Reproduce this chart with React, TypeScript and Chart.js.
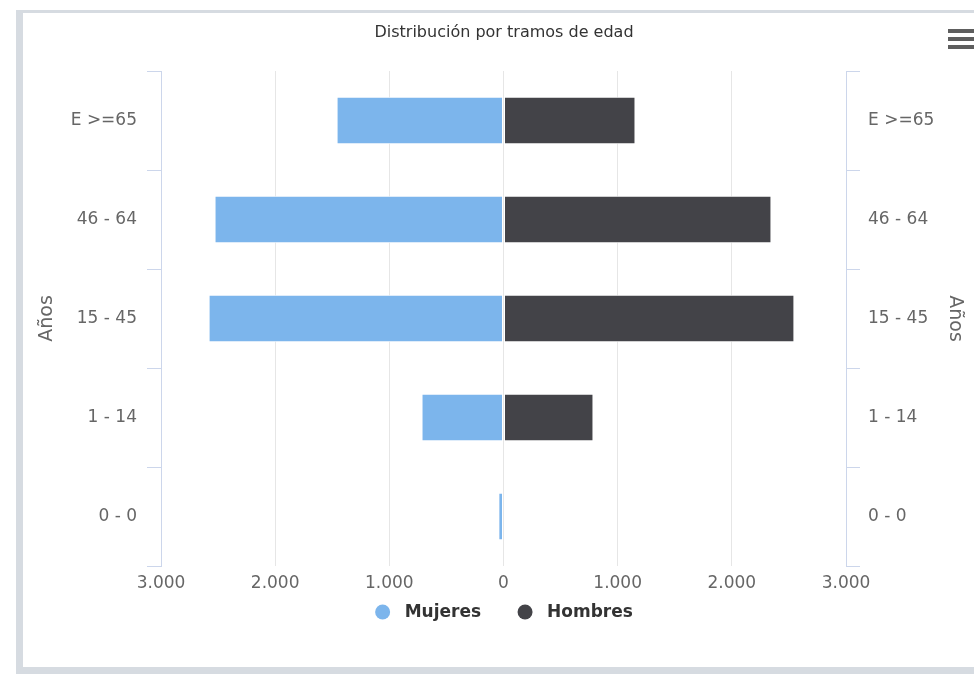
import React, { useEffect, useRef } from 'react';
import { Chart, registerables } from 'chart.js';

Chart.register(...registerables);

const categories = ['E >=65', '46 - 64', '15 - 45', '1 - 14', '0 - 0'];
const mujeres = [-1462, -2531, -2583, -718, -45];
const hombres = [1156, 2347, 2548, 788, 20];
const seriesNames = ['Mujeres', 'Hombres'];
const seriesColors = ['#7cb5ec', '#434348'];
const xMin = -3000;
const xMax = 3000;
const xStep = 1000;
const titleText = 'Distribución por tramos de edad';
const axisTitle = 'Años';

const FONT = "'DejaVu Sans', sans-serif";

function fmt(v: number): string {
  const s = Math.abs(Math.round(v)).toString();
  return s.replace(/\B(?=(\d{3})+(?!\d))/g, '.');
}

const bottomLegend = {
  id: 'bottomLegend',
  afterDraw(chart: any) {
    const ctx = chart.ctx as CanvasRenderingContext2D;
    const items = chart.data.datasets.map((ds: any) => ({ text: ds.label as string, color: ds.backgroundColor as string }));
    const radius = 7.5;
    const dotToText = 22;
    const gap = 44;
    const centerX = 504;
    const y = 612;
    ctx.save();
    ctx.font = `bold 17px ${FONT}`;
    const widths = items.map((it: any) => ctx.measureText(it.text).width);
    let total = radius;
    widths.forEach((w: number, i: number) => {
      total += dotToText + w;
      if (i < widths.length - 1) total += gap;
    });
    let x = centerX - total / 2 + radius;
    ctx.textBaseline = 'middle';
    ctx.textAlign = 'left';
    items.forEach((it: any, i: number) => {
      ctx.fillStyle = it.color;
      ctx.beginPath();
      ctx.arc(x, y, radius, 0, Math.PI * 2);
      ctx.fill();
      ctx.fillStyle = '#333333';
      ctx.fillText(it.text, x + dotToText, y + 1);
      x += dotToText + widths[i] + gap;
    });
    ctx.restore();
  },
};

export default function App() {
  const ref = useRef<HTMLCanvasElement | null>(null);

  useEffect(() => {
    if (!ref.current) return;
    const chart = new Chart(ref.current, {
      type: 'bar',
      data: {
        labels: categories,
        datasets: [
          {
            label: seriesNames[0],
            data: mujeres,
            backgroundColor: seriesColors[0],
            borderColor: '#ffffff',
            borderWidth: 1,
            borderSkipped: false,
            barPercentage: 0.48,
            categoryPercentage: 1,
            yAxisID: 'y',
          },
          {
            label: seriesNames[1],
            data: hombres,
            backgroundColor: seriesColors[1],
            borderColor: '#ffffff',
            borderWidth: 1,
            borderSkipped: false,
            barPercentage: 0.48,
            categoryPercentage: 1,
            yAxisID: 'y',
          },
        ],
      },
      plugins: [bottomLegend],
      options: {
        indexAxis: 'y',
        responsive: false,
        animation: false,
        layout: { padding: { left: 34, right: 0, top: 0, bottom: 0 } },
        scales: {
          x: {
            type: 'linear',
            stacked: true,
            min: xMin,
            max: xMax,
            ticks: {
              stepSize: xStep,
              color: '#666666',
              padding: 7,
              font: { family: FONT, size: 17 },
              callback: (v: any) => fmt(Number(v)),
            },
            grid: { color: '#e6e6e6', drawTicks: false, lineWidth: 1 },
            border: { display: false },
            afterFit: (s: any) => { s.height = 108; },
          },
          y: {
            type: 'category',
            position: 'left',
            stacked: true,
            offset: true,
            ticks: {
              color: '#666666',
              padding: 10,
              font: { family: FONT, size: 17 },
            },
            grid: { offset: true, drawOnChartArea: false, drawTicks: true, tickLength: 14, color: '#ccd6eb' },
            border: { display: true, color: '#ccd6eb' },
            title: {
              display: true,
              text: axisTitle,
              color: '#666666',
              font: { family: FONT, size: 19 },
              padding: { top: 1.6, bottom: 0 },
            },
            afterFit: (s: any) => { s.width = 127; },
          },
          y2: {
            type: 'category',
            position: 'right',
            labels: categories,
            offset: true,
            ticks: {
              color: '#666666',
              padding: 8,
              font: { family: FONT, size: 17 },
            },
            grid: { offset: true, drawOnChartArea: false, drawTicks: true, tickLength: 14, color: '#ccd6eb' },
            border: { display: true, color: '#ccd6eb' },
            title: {
              display: true,
              text: axisTitle,
              color: '#666666',
              font: { family: FONT, size: 19 },
              padding: { top: 7.6, bottom: 0 },
            },
            afterFit: (s: any) => { s.width = 128; },
          },
        },
        plugins: {
          title: {
            display: true,
            text: titleText,
            color: '#333333',
            font: { family: FONT, size: 16, weight: 'normal' },
            padding: { top: 23.4, bottom: 28.4 },
          },
          legend: { display: false },
          tooltip: { enabled: false },
        },
      },
    });
    return () => chart.destroy();
  }, []);

  return (
    <div style={{ position: 'fixed', left: 0, top: 0, width: 974, height: 674, background: '#ffffff', overflow: 'hidden' }}>
      <div style={{ position: 'absolute', left: 16, top: 10, width: 958, height: 664, background: '#d6dbe1' }} />
      <div style={{ position: 'absolute', left: 23, top: 13, width: 951, height: 654, background: '#ffffff' }} />
      <canvas ref={ref} width={974} height={674} style={{ position: 'absolute', left: 0, top: 0, width: 974, height: 674 }} />
      <div style={{ position: 'absolute', left: 948, top: 29, width: 30, height: 4, background: '#5e5e5e' }} />
      <div style={{ position: 'absolute', left: 948, top: 37, width: 30, height: 4, background: '#5e5e5e' }} />
      <div style={{ position: 'absolute', left: 948, top: 45, width: 30, height: 4, background: '#5e5e5e' }} />
    </div>
  );
}
